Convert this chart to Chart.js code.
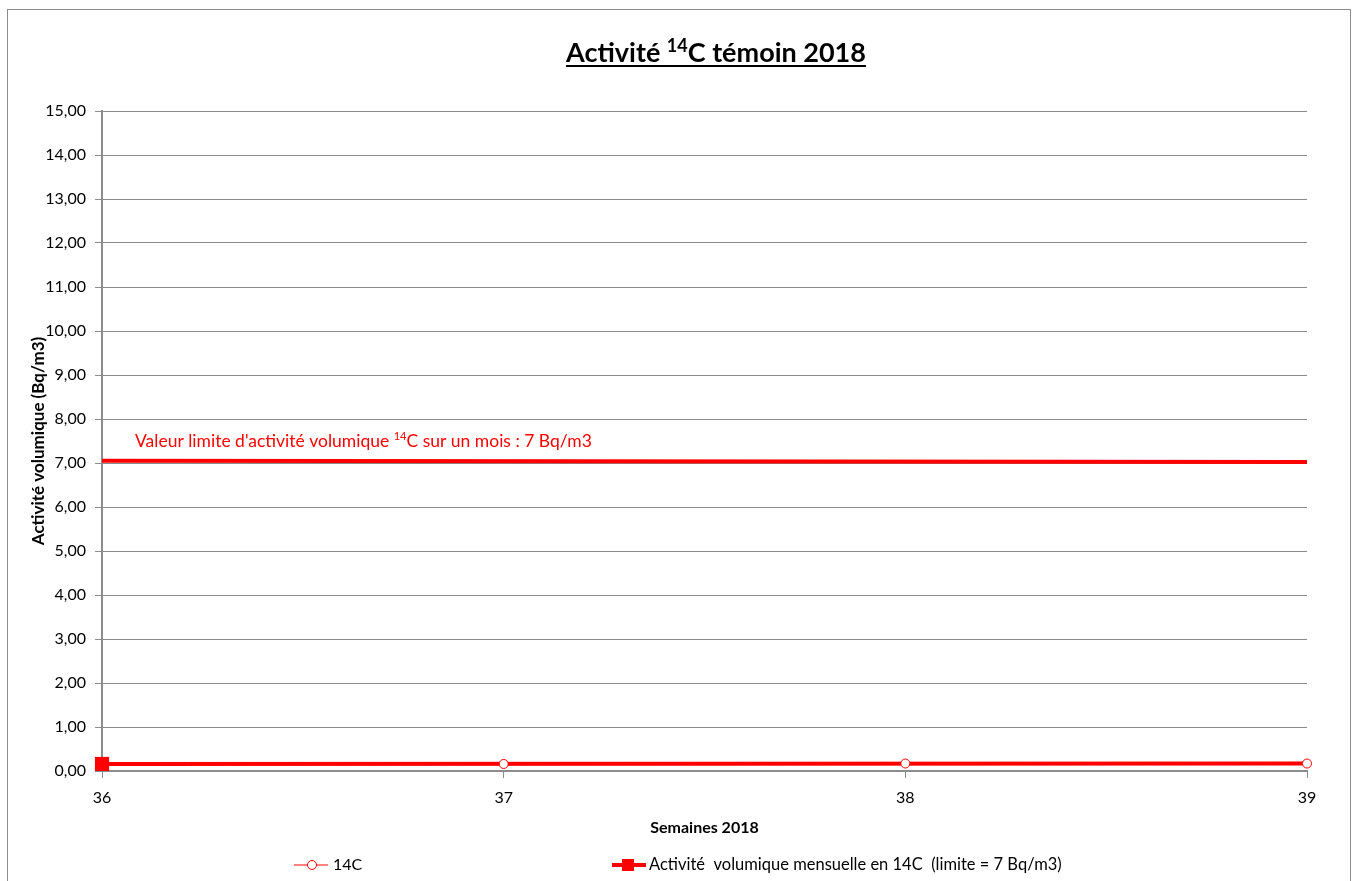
<!DOCTYPE html>
<html>
<head>
<meta charset="utf-8">
<script src="https://cdn.jsdelivr.net/npm/chart.js@4/dist/chart.umd.min.js"></script>
<style>
  html, body { margin: 0; padding: 0; background: #fff; }
  #wrap { width: 1353px; height: 881px; }
</style>
</head>
<body>
<div id="wrap"><canvas id="c14Chart" width="1353" height="881"></canvas></div>
<script>
// Semaines
const weeks = [36, 37, 38, 39];
// 14C hebdo (Bq/m3)
const c14Values = [0.16, 0.16, 0.17, 0.17];
// Activité volumique mensuelle (début / fin)
const monthlyWeeks = [36, 39];
const monthlyValues = [0.16, 0.17];
// Valeur limite
const limitWeeks = [36, 39];
const limitValues = [7.05, 7.02];

const FONT = 'Lato, "Open Sans", sans-serif';
const RED = '#ff0000';
const GRID = '#8c8c8c';

function toPoints(xs, ys) {
  return xs.map((x, i) => ({ x: x, y: ys[i] }));
}

// Draw text with a superscript part: parts = [[text, sup?], ...]
function drawParts(ctx, parts, x, y, size, weight, color) {
  let cx = x;
  parts.forEach(p => {
    const s = p[1] ? Math.round(size * 0.65) : size;
    ctx.font = weight + ' ' + s + 'px ' + FONT;
    ctx.fillStyle = color;
    ctx.fillText(p[0], cx, p[1] ? y - size * 0.38 : y);
    cx += ctx.measureText(p[0]).width;
  });
  return cx - x;
}

function measureParts(ctx, parts, size, weight) {
  let w = 0;
  parts.forEach(p => {
    const s = p[1] ? Math.round(size * 0.65) : size;
    ctx.font = weight + ' ' + s + 'px ' + FONT;
    w += ctx.measureText(p[0]).width;
  });
  return w;
}

const decorPlugin = {
  id: 'decor',
  beforeDraw(chart) {
    const ctx = chart.ctx;
    ctx.save();
    ctx.fillStyle = '#fff';
    ctx.fillRect(0, 0, chart.width, chart.height);
    ctx.strokeStyle = GRID;
    ctx.lineWidth = 1;
    ctx.strokeRect(7.5, 9.5, 1343, 900);
    ctx.restore();
  },
  afterDraw(chart) {
    const ctx = chart.ctx;
    ctx.save();
    ctx.textBaseline = 'alphabetic';

    // title
    const tParts = [['Activité ', false], ['14', true], ['C témoin 2018', false]];
    const tw = measureParts(ctx, tParts, 27, 'bold');
    const tx = 716 - tw / 2;
    drawParts(ctx, tParts, tx, 62, 27, 'bold', '#000');
    ctx.fillStyle = '#000';
    ctx.fillRect(tx, 65, tw, 2);

    // limit label
    const y = chart.scales.y;
    const x = chart.scales.x;
    drawParts(ctx, [["Valeur limite d'activité volumique ", false], ['14', true], ['C sur un mois : 7 Bq/m3', false]],
      x.getPixelForValue(36) + 33, y.getPixelForValue(7) - 16, 17.5, 'normal', RED);

    // legend
    const ly = 865;
    ctx.strokeStyle = RED;
    ctx.lineWidth = 1;
    ctx.beginPath();
    ctx.moveTo(294, ly);
    ctx.lineTo(328, ly);
    ctx.stroke();
    ctx.beginPath();
    ctx.fillStyle = '#fff';
    ctx.arc(312, ly, 4.5, 0, Math.PI * 2);
    ctx.fill();
    ctx.stroke();
    ctx.fillStyle = '#000';
    ctx.font = '16px ' + FONT;
    ctx.textBaseline = 'middle';
    ctx.fillText('14C', 333, ly);

    ctx.lineWidth = 4;
    ctx.beginPath();
    ctx.moveTo(612, ly);
    ctx.lineTo(646, ly);
    ctx.stroke();
    ctx.fillStyle = RED;
    ctx.fillRect(622, ly - 6, 12, 12);
    ctx.fillStyle = '#000';
    ctx.font = '16.5px ' + FONT;
    ctx.fillText('Activité  volumique mensuelle en 14C  (limite = 7 Bq/m3)', 649, ly);
    ctx.restore();
  }
};

new Chart(document.getElementById('c14Chart'), {
  type: 'line',
  data: {
    datasets: [{
      label: '14C',
      data: toPoints(weeks, c14Values),
      borderColor: RED,
      borderWidth: 1,
      // first marker sits under the monthly square
      pointRadius: [0, 4.5, 4.5, 4.5],
      pointBorderWidth: 1,
      pointBorderColor: RED,
      pointBackgroundColor: '#fff',
      clip: false
    }, {
      label: 'Activité  volumique mensuelle en 14C  (limite = 7 Bq/m3)',
      data: toPoints(monthlyWeeks, monthlyValues),
      borderColor: RED,
      borderWidth: 4,
      pointStyle: 'rect',
      pointRadius: [10, 0],
      pointBackgroundColor: RED,
      pointBorderColor: RED,
      pointBorderWidth: 0,
      clip: false
    }, {
      label: 'limite',
      data: toPoints(limitWeeks, limitValues),
      borderColor: RED,
      borderWidth: 4,
      pointRadius: 0
    }]
  },
  options: {
    responsive: false,
    animation: false,
    layout: {
      padding: { left: 0, right: 46, top: 111, bottom: 0 }
    },
    scales: {
      x: {
        type: 'linear',
        min: 36,
        max: 39,
        afterFit: scale => { scale.height = 110; },
        ticks: {
          stepSize: 1,
          padding: 10,
          color: '#000',
          font: { family: FONT, size: 16 }
        },
        grid: {
          drawOnChartArea: false,
          drawTicks: true,
          tickLength: 7,
          color: GRID
        },
        border: { color: GRID, width: 2 },
        title: {
          display: true,
          text: 'Semaines 2018',
          color: '#000',
          font: { family: FONT, size: 16, weight: 'bold' },
          padding: { top: 0, bottom: 44 }
        }
      },
      y: {
        min: 0,
        max: 15,
        afterFit: scale => { scale.width = 102; },
        ticks: {
          stepSize: 1,
          padding: 9,
          color: '#000',
          font: { family: FONT, size: 16 },
          callback: v => v.toFixed(2).replace('.', ',')
        },
        grid: {
          color: GRID,
          tickLength: 7
        },
        border: { color: GRID, width: 2 },
        title: {
          display: true,
          text: 'Activité volumique (Bq/m3)',
          color: '#000',
          font: { family: FONT, size: 17, weight: 'bold' },
          padding: { top: 28, bottom: 0 }
        }
      }
    },
    plugins: {
      legend: { display: false },
      tooltip: { enabled: false }
    }
  },
  plugins: [decorPlugin]
});
</script>
</body>
</html>
